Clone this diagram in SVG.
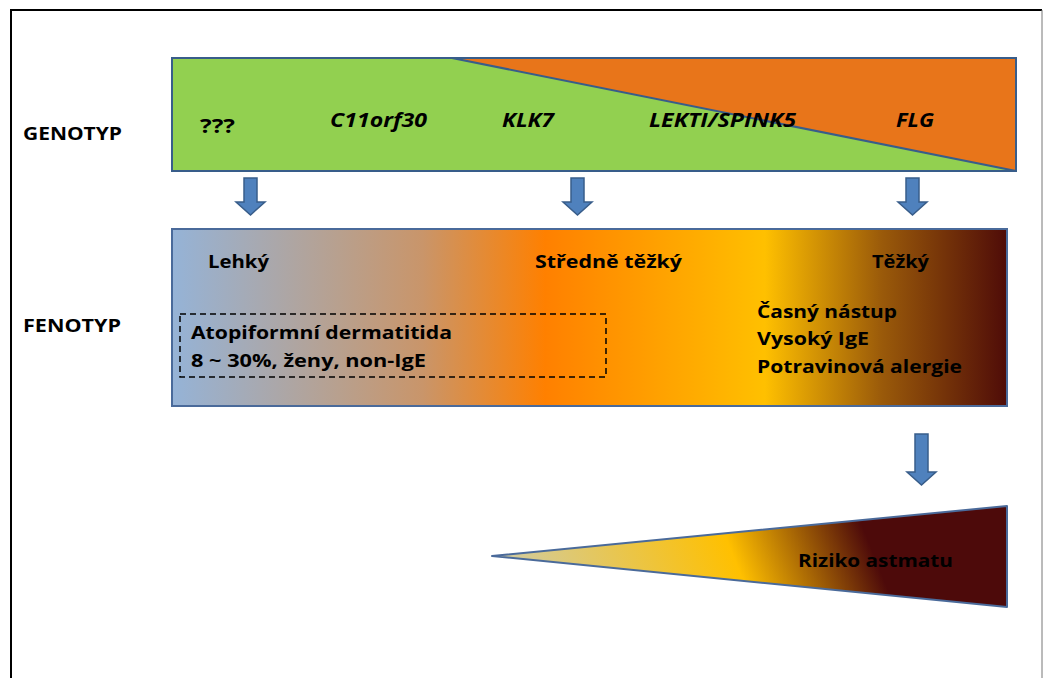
<svg xmlns="http://www.w3.org/2000/svg" width="1053" height="678" viewBox="0 0 1053 678">
<style>
.t{font-family:"Open Sans","Liberation Sans",sans-serif;font-weight:bold;fill:#000;}
.lbl{font-size:18px;}
.gen{font-size:19px;font-style:italic;}
.q{font-size:19px;font-style:normal;}
.ph{font-size:18px;}
.arrow{fill:#4f81bd;stroke:#385d8a;stroke-width:1.5;}
</style>
<defs>
<linearGradient id="gPh" gradientUnits="userSpaceOnUse" x1="172" y1="0" x2="1007" y2="0">
<stop offset="0" stop-color="#95b3d7"/>
<stop offset="0.2" stop-color="#b8a08e"/>
<stop offset="0.3" stop-color="#c9956a"/>
<stop offset="0.447" stop-color="#ff8000"/>
<stop offset="0.71" stop-color="#ffc000"/>
<stop offset="0.85" stop-color="#9a5a0a"/>
<stop offset="1" stop-color="#4f0c08"/>
</linearGradient>
<linearGradient id="gTri" gradientUnits="userSpaceOnUse" x1="492" y1="556" x2="1007" y2="350">
<stop offset="0" stop-color="#cfcca8"/>
<stop offset="0.404" stop-color="#ffc000"/>
<stop offset="0.64" stop-color="#4d0a0a"/>
<stop offset="1" stop-color="#4d0a0a"/>
</linearGradient>
</defs>
<rect x="0" y="0" width="1053" height="678" fill="#fff"/>
<g id="frame">
<line x1="10" y1="10" x2="1042" y2="10" stroke="#000" stroke-width="2"/>
<line x1="11" y1="10" x2="11" y2="678" stroke="#000" stroke-width="2"/>
<line x1="1042" y1="10" x2="1042" y2="678" stroke="#777" stroke-width="1"/>
</g>
<g id="genotype-label"><text class="t lbl" x="23" y="140" textLength="99" lengthAdjust="spacingAndGlyphs">GENOTYP</text></g>
<g id="fenotyp-label"><text class="t lbl" x="23" y="332" textLength="98" lengthAdjust="spacingAndGlyphs">FENOTYP</text></g>
<g id="genotype">
<rect x="172" y="58" width="844" height="113" fill="#92d050"/>
<polygon points="452,58 1016,58 1016,171" fill="#e8751a"/>
<line x1="452" y1="58" x2="1016" y2="171" stroke="#385d8a" stroke-width="2"/>
<rect x="172" y="58" width="844" height="113" fill="none" stroke="#385d8a" stroke-width="2"/>
<text class="t q" x="200" y="133" textLength="35" lengthAdjust="spacingAndGlyphs">???</text>
<text class="t gen" x="330" y="127" textLength="97" lengthAdjust="spacingAndGlyphs">C11orf30</text>
<text class="t gen" x="502" y="127" textLength="52" lengthAdjust="spacingAndGlyphs">KLK7</text>
<text class="t gen" x="649" y="127" textLength="147" lengthAdjust="spacingAndGlyphs">LEKTI/SPINK5</text>
<text class="t gen" x="896" y="127" textLength="38" lengthAdjust="spacingAndGlyphs">FLG</text>
</g>
<g id="phenotype">
<rect x="172" y="229" width="835" height="177" fill="url(#gPh)" stroke="#4a6a9a" stroke-width="2"/>
<text class="t ph" x="208" y="268" textLength="61" lengthAdjust="spacingAndGlyphs">Lehký</text>
<text class="t ph" x="535" y="268" textLength="147" lengthAdjust="spacingAndGlyphs">Středně těžký</text>
<text class="t ph" x="872" y="268" textLength="57" lengthAdjust="spacingAndGlyphs">Těžký</text>
<rect x="180" y="314" width="426" height="63" fill="none" stroke="#000" stroke-width="1.5" stroke-dasharray="6,4"/>
<text class="t ph" x="191" y="339" textLength="261" lengthAdjust="spacingAndGlyphs">Atopiformní dermatitida</text>
<text class="t ph" x="191" y="367" textLength="235" lengthAdjust="spacingAndGlyphs">8 ~ 30%, ženy, non-IgE</text>
<text class="t ph" x="757" y="318" textLength="140" lengthAdjust="spacingAndGlyphs">Časný nástup</text>
<text class="t ph" x="757" y="345" textLength="112" lengthAdjust="spacingAndGlyphs">Vysoký IgE</text>
<text class="t ph" x="757" y="373" textLength="205" lengthAdjust="spacingAndGlyphs">Potravinová alergie</text>
</g>
<g id="risk">
<polygon points="492,556 1007,506 1007,607" fill="url(#gTri)" stroke="#4a6a9a" stroke-width="2" stroke-linejoin="round"/>
<text class="t ph" x="798" y="567" textLength="155" lengthAdjust="spacingAndGlyphs">Riziko astmatu</text>
</g>
<g id="connectors">
<polygon class="arrow" points="244,178 257,178 257,202 265,202 250.5,215 236,202 244,202"/>
<polygon class="arrow" points="571,178 584,178 584,202 592,202 577.5,215 563,202 571,202"/>
<polygon class="arrow" points="906,178 919,178 919,202 927,202 912.5,215 898,202 906,202"/>
<polygon class="arrow" points="915,434 928,434 928,472 936,472 921.5,485 907,472 915,472"/>
</g>
</svg>
